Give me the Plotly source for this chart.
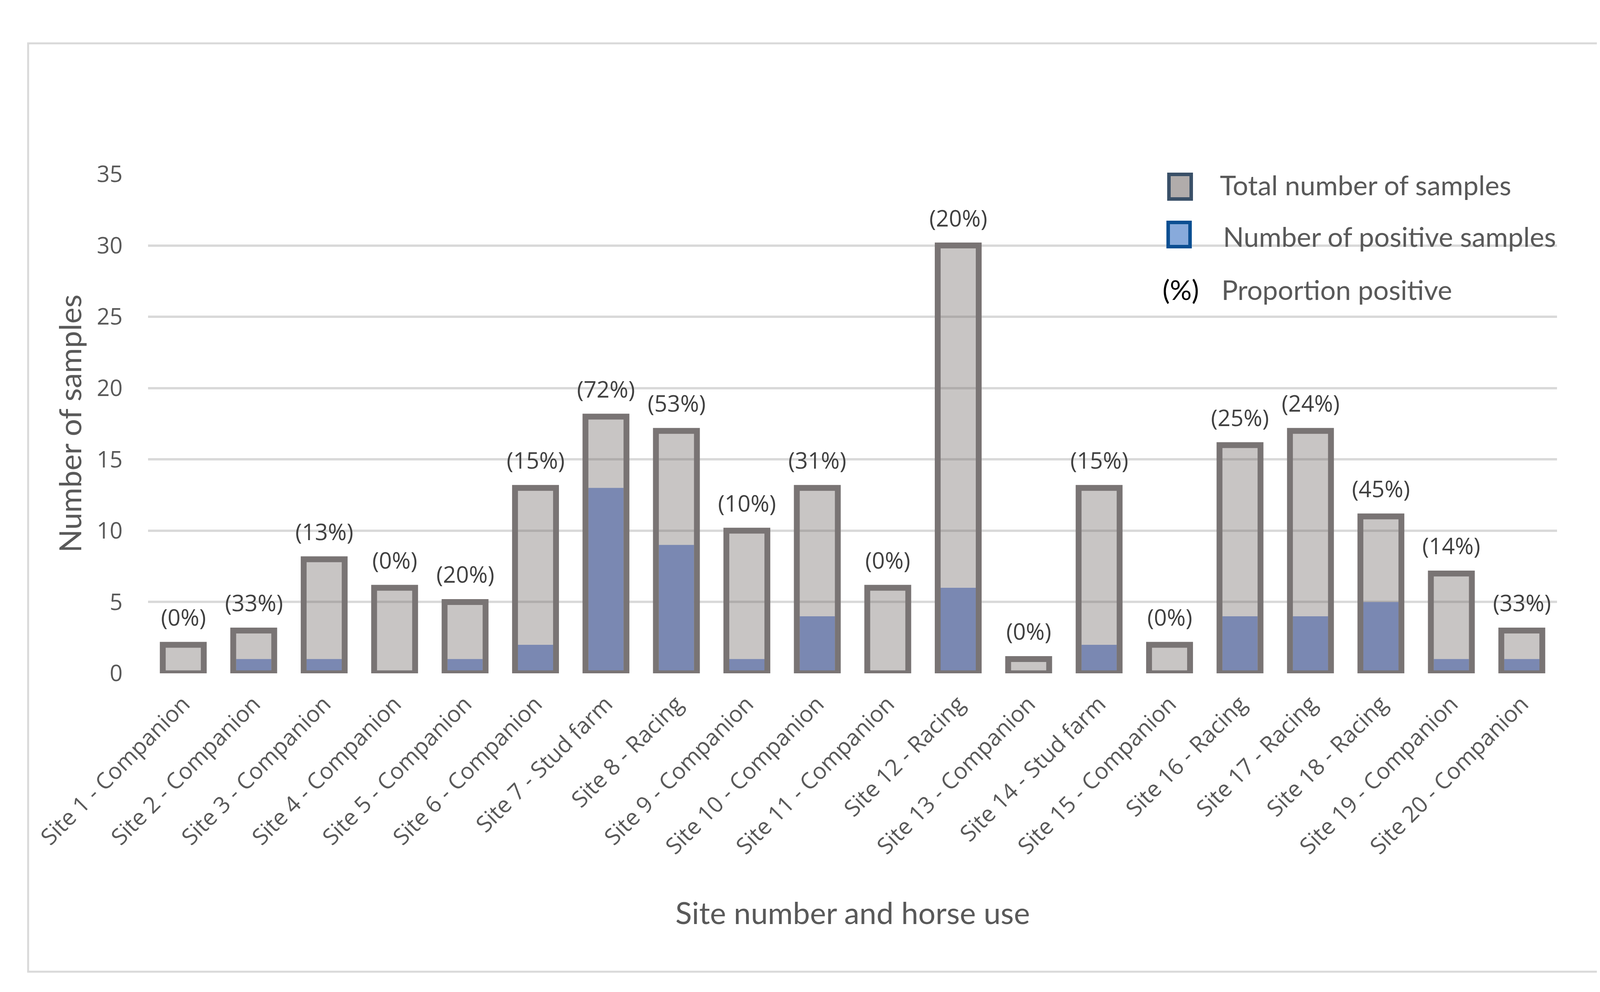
import plotly.graph_objects as go

# ---- data ----
sites = ["Site 1 - Companion", "Site 2 - Companion", "Site 3 - Companion", "Site 4 - Companion",
         "Site 5 - Companion", "Site 6 - Companion", "Site 7 - Stud farm", "Site 8 - Racing",
         "Site 9 - Companion", "Site 10 - Companion", "Site 11 - Companion", "Site 12 - Racing",
         "Site 13 - Companion", "Site 14 - Stud farm", "Site 15 - Companion", "Site 16 - Racing",
         "Site 17 - Racing", "Site 18 - Racing", "Site 19 - Companion", "Site 20 - Companion"]
total_samples = [2, 3, 8, 6, 5, 13, 18, 17, 10, 13, 6, 30, 1, 13, 2, 16, 17, 11, 7, 3]
positive_samples = [0, 1, 1, 0, 1, 2, 13, 9, 1, 4, 0, 6, 0, 2, 0, 4, 4, 5, 1, 1]
proportion_labels = ["(0%)", "(33%)", "(13%)", "(0%)", "(20%)", "(15%)", "(72%)", "(53%)",
                     "(10%)", "(31%)", "(0%)", "(20%)", "(0%)", "(15%)", "(0%)", "(25%)",
                     "(24%)", "(45%)", "(14%)", "(33%)"]
y_ticks = [0, 5, 10, 15, 20, 25, 30, 35]

W, H = 4159, 2540
L, R, T, B = 371, 181, 438, 824
PW, PH = W - L - R, H - T - B


def px(xp):
    return (xp - L) / PW


def py(yp):
    return (H - B - yp) / PH


TICK_FONT = "Open Sans, DejaVu Sans, sans-serif"
TITLE_FONT = "Lato, Open Sans, sans-serif"
OUTLINE = "#797474"

fig = go.Figure()
# grey fill (semi-transparent so gridlines show through)
fig.add_trace(go.Bar(x=sites, y=total_samples, width=0.582,
                     marker=dict(color="rgba(107,97,94,0.37)", line=dict(width=0)),
                     showlegend=False, hoverinfo="skip"))
# positive samples
fig.add_trace(go.Bar(x=sites, y=positive_samples, width=0.5,
                     marker=dict(color="#7a88b2", line=dict(width=0)),
                     showlegend=False, hoverinfo="skip"))
# outline of total bars
fig.add_trace(go.Bar(x=sites, y=total_samples, width=0.582,
                     marker=dict(color="rgba(0,0,0,0)", line=dict(color=OUTLINE, width=15)),
                     cliponaxis=False, showlegend=False,
                     hovertemplate="%{x}: %{y}<extra></extra>"))

annotations = []
for s, v, lab in zip(sites, total_samples, proportion_labels):
    annotations.append(dict(x=s, y=v, xref="x", yref="y", text=lab, showarrow=False,
                            yanchor="bottom", yshift=30,
                            font=dict(family=TICK_FONT, size=58, color="#404040")))

# axis titles
annotations.append(dict(x=px(170), y=0.5, xref="paper", yref="paper", text="Number of samples",
                        textangle=-90, showarrow=False, xanchor="center", yanchor="middle",
                        font=dict(family=TITLE_FONT, size=78, color="#595959")))
annotations.append(dict(x=0.5, y=py(2328), xref="paper", yref="paper",
                        text="Site number and horse use", showarrow=False,
                        xanchor="center", yanchor="middle",
                        font=dict(family=TITLE_FONT, size=78, color="#595959")))

# legend texts
LEG_SIZE = 70
annotations.append(dict(x=px(3113), y=py(465), xref="paper", yref="paper",
                        text="Total number of samples", showarrow=False,
                        xanchor="left", yanchor="middle",
                        font=dict(family=TITLE_FONT, size=LEG_SIZE, color="#595959")))
annotations.append(dict(x=px(3121), y=py(597), xref="paper", yref="paper",
                        text="Number of positive samples", showarrow=False,
                        xanchor="left", yanchor="middle",
                        font=dict(family=TITLE_FONT, size=LEG_SIZE, color="#595959")))
annotations.append(dict(x=px(2966), y=py(733), xref="paper", yref="paper",
                        text="(%)", showarrow=False,
                        xanchor="left", yanchor="middle",
                        font=dict(family=TITLE_FONT, size=LEG_SIZE, color="#000000")))
annotations.append(dict(x=px(3117), y=py(733), xref="paper", yref="paper",
                        text="Proportion positive", showarrow=False,
                        xanchor="left", yanchor="middle",
                        font=dict(family=TITLE_FONT, size=LEG_SIZE, color="#595959")))

shapes = [
    # chart border
    dict(type="rect", xref="paper", yref="paper", x0=px(64), x1=px(4108), y0=py(2480), y1=py(103),
         line=dict(color="#d9d9d9", width=5), fillcolor="rgba(0,0,0,0)", layer="below"),
    # legend swatches
    dict(type="rect", xref="paper", yref="paper", x0=px(2984.5), x1=px(3041.5),
         y0=py(501.5), y1=py(438.5), line=dict(color="#3a5068", width=9), fillcolor="#b1acab"),
    dict(type="rect", xref="paper", yref="paper", x0=px(2982.5), x1=px(3038.5),
         y0=py(623.5), y1=py(561.5), line=dict(color="#0b4f92", width=9), fillcolor="#88aadb"),
]

fig.update_layout(
    width=W, height=H,
    margin=dict(l=L, r=R, t=T, b=B, autoexpand=False),
    paper_bgcolor="white", plot_bgcolor="white",
    barmode="overlay", bargap=0.4,
    annotations=annotations, shapes=shapes,
    showlegend=False,
)
fig.update_xaxes(type="category", range=[-0.5, 19.5], tickangle=-45,
                 tickfont=dict(family=TICK_FONT, size=58, color="#595959"),
                 showgrid=False, showline=False, ticks="", ticklabelstandoff=32)
fig.update_yaxes(range=[0, 35], tickvals=y_ticks, showgrid=True, gridcolor="#d9d9d9", gridwidth=6,
                 zeroline=False, showline=False, ticks="",
                 tickfont=dict(family=TICK_FONT, size=58, color="#595959"), ticklabelstandoff=64)

fig.write_html("out.html")
